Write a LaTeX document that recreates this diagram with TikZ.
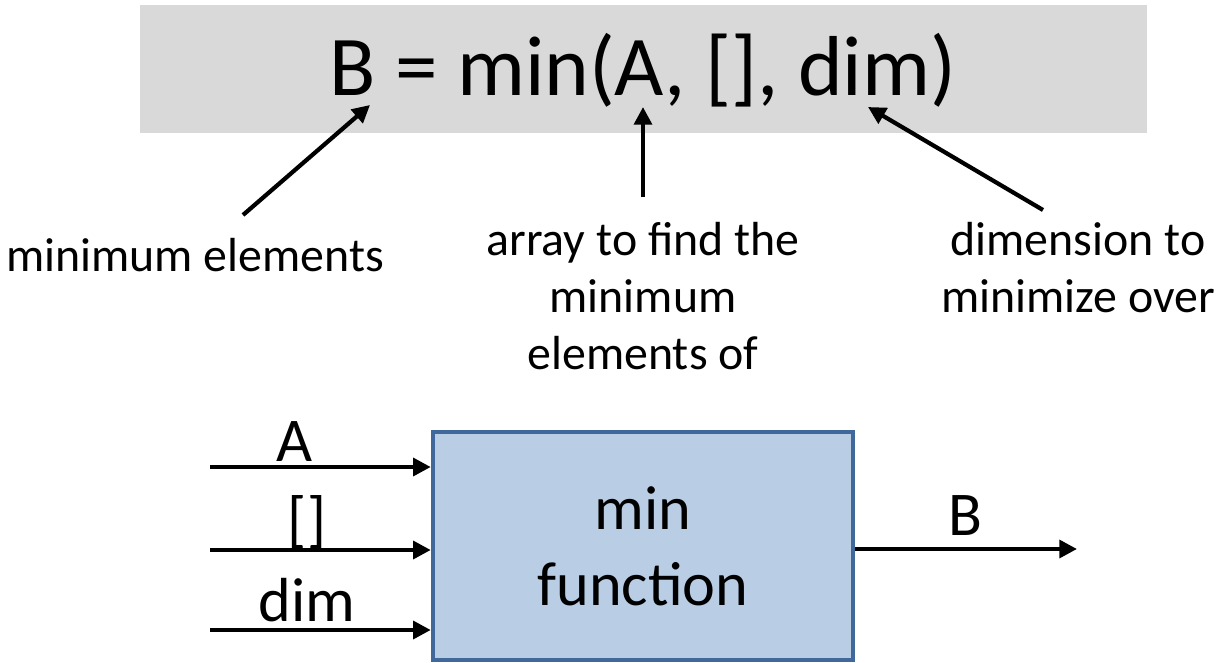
\documentclass[tikz,border=0pt]{standalone}
\usepackage{fontspec}
\setmainfont{Carlito}
\usetikzlibrary{positioning,calc,arrows.meta}

\definecolor{headgray}{HTML}{D9D9D9}
\definecolor{boxfill}{HTML}{B9CDE5}
\definecolor{boxline}{HTML}{41689A}

\begin{document}
\begin{tikzpicture}[x=0.01cm, y=-0.01cm, ->, >={Triangle[length=5pt,width=5pt]}, every edge/.append style={line width=1.2pt}, head/.style={fill=headgray, draw=none, minimum width=10.07cm, minimum height=1.28cm, inner sep=0pt}, note/.style={align=center, font=\fontsize{13.6}{16.2}\selectfont, inner sep=0pt}, io/.style={font=\fontsize{17.7}{21.6}\selectfont, inner sep=0pt}, fnbox/.style={rectangle, draw=boxline, line width=1.2pt, fill=boxfill, minimum width=4.2cm, minimum height=2.28cm, align=center, font=\fontsize{17.7}{21.6}\selectfont}]
\useasboundingbox (0,0) rectangle (1232,663);

% formula on top
\node[head] (hd) at (643.5,69) {};
\node[font=\fontsize{24.2}{29}\selectfont, inner sep=0pt, anchor=base] (call) at (643,95) {B = min(A, [], dim)};
\coordinate (tB) at (370,105);
\coordinate (tA) at (643,107);
\coordinate (tdim) at (868,107);

% notes
\node[note] (nout) at (195,255) {minimum elements};
\node[note] (narr) at (643,296) {array to find the\\minimum\\elements of};
\node[note] (ndim) at (1078,268) {dimension to\\minimize over};
\coordinate (sB) at (243,215);
\coordinate (sA) at (643,197);
\coordinate (sdim) at (1043,210);

\path
 (sB) edge (tB)
 (sA) edge (tA)
 (sdim) edge (tdim);

% block
\node[fnbox] (fn) at (643,546) {min\\function};
\coordinate (in1) at (210,467);
\coordinate (in2) at (210,550);
\coordinate (in3) at (210,630);
\coordinate (out) at (1077,549);

\path
 (in1) edge (fn.west |- in1)
 (in2) edge (fn.west |- in2)
 (in3) edge (fn.west |- in3)
 (fn.east |- out) edge (out);

\node[io] (lA) at (295,442) {A};
\node[io] (lE) at (307,522) {[]};
\node[io] (ldim) at (307,600) {dim};
\node[io] (lB) at (965,516) {B};
\end{tikzpicture}
\end{document}
